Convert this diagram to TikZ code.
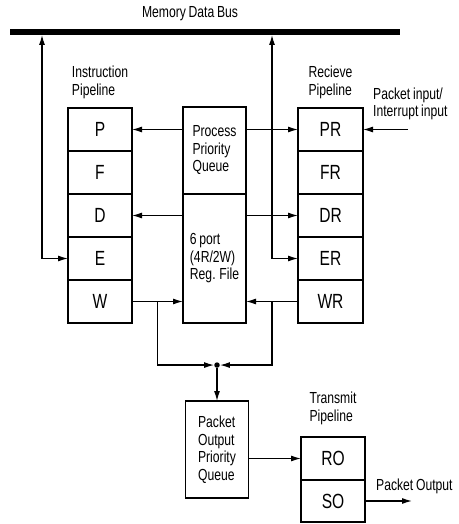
\documentclass[tikz,border=0pt]{standalone}
\usepackage{fontspec}
\setmainfont{Liberation Sans}[FakeStretch=0.76,WordSpace=0.8]
\usetikzlibrary{positioning,calc,arrows.meta}

\begin{document}
\begin{tikzpicture}[x=1pt,y=-1pt,node distance=0pt,
    >={Latex[length=10pt,width=6pt]},
    stage/.style={draw,line width=1.7pt,minimum width=64pt,minimum height=43pt,outer sep=0pt,inner sep=0pt,font=\fontsize{20.5}{22}\selectfont},
    queue/.style={draw,line width=1.7pt,minimum width=63pt,outer sep=0pt,align=left,font=\fontsize{16}{17.5}\selectfont},
    lbl/.style={align=left,inner sep=1pt,font=\fontsize{16}{17.5}\selectfont},
    arr/.style={line width=1.2pt,->},
    dot/.style={circle,fill,inner sep=0pt,minimum size=5.5pt}]
  \useasboundingbox (0,0) rectangle (458,524);
  % memory bus
  \node[fill,inner sep=0pt,minimum width=390pt,minimum height=5.5pt] (bus) at (205,32) {};
  \node[lbl] (mdb) at (190,14) {Memory Data Bus};
  % instruction pipeline
  \node[stage] (p) at (100,129.5) {P};
  \node[stage,below=of p] (f) {F};
  \node[stage,below=of f] (d) {D};
  \node[stage,below=of d] (e) {E};
  \node[stage,below=of e] (w) {W};
  \node[lbl,above=8pt of p] (ilbl) {Instruction\\Pipeline};
  % queue and register file
  \node[queue,minimum height=87pt] (ppq) at (214.5,150.5) {Process\\Priority\\Queue};
  \node[queue,minimum height=129pt,below=of ppq] (reg) {6 port\\(4R/2W)\\Reg. File};
  % receive pipeline
  \node[stage,minimum width=65pt] (pr) at (330.5,129.5) {PR};
  \node[stage,minimum width=65pt,below=of pr] (fr) {FR};
  \node[stage,minimum width=65pt,below=of fr] (dr) {DR};
  \node[stage,minimum width=65pt,below=of dr] (er) {ER};
  \node[stage,minimum width=65pt,below=of er] (wr) {WR};
  \node[lbl,above=8pt of pr] (rlbl) {Recieve\\Pipeline};
  \coordinate[right=45pt of pr] (pin);
  \node[lbl,above right=8pt and -36pt of pin] (pinl) {Packet input/\\Interrupt input};
  % output side
  \node[queue,minimum height=97pt] (opq) at (217,449.5) {Packet\\Output\\Priority\\Queue};
  \node[dot,above=33pt of opq] (jn) {};
  \node[stage] (ro) at (333,458.5) {RO};
  \node[stage,minimum height=42pt,below=of ro] (so) {SO};
  \node[lbl,above=11pt of ro] (tlbl) {Transmit\\Pipeline};
  \coordinate[right=47pt of so] (pout);
  \node[lbl,above right=6pt and 10pt of so.east] (poutl) {Packet Output};
  % connectors
  \coordinate (ltap) at (42,260);
  \coordinate (rtap) at ($(reg.east)!0.5!(er.west)$);
  \coordinate (wtap) at ($(w.east)!0.5!(reg.west |- w)$);
  \coordinate (wrtap) at ($(wr.west)!0.5!(reg.east |- wr)$);
  \draw[line width=1.2pt,<->] (bus.south -| ltap) |- (e);
  \draw[line width=1.2pt,<->] (bus.south -| rtap) |- (er);
  \draw[arr] (ppq.west |- p) -- (p);
  \draw[arr] (ppq.east |- pr) -- (pr);
  \draw[arr] (reg.west |- d) -- (d);
  \draw[arr] (reg.east |- dr) -- (dr);
  \draw[arr] (w) -- (reg.west |- w);
  \draw[arr] (wr) -- (reg.east |- wr);
  \draw[arr] (pin) -- (pr);
  \draw[arr] (wtap) |- (jn);
  \draw[arr] (wrtap) |- (jn);
  \draw[arr] (jn) -- (opq);
  \draw[arr] (opq.east |- ro) -- (ro);
  \draw[arr] (so) -- (pout);
\end{tikzpicture}
\end{document}
